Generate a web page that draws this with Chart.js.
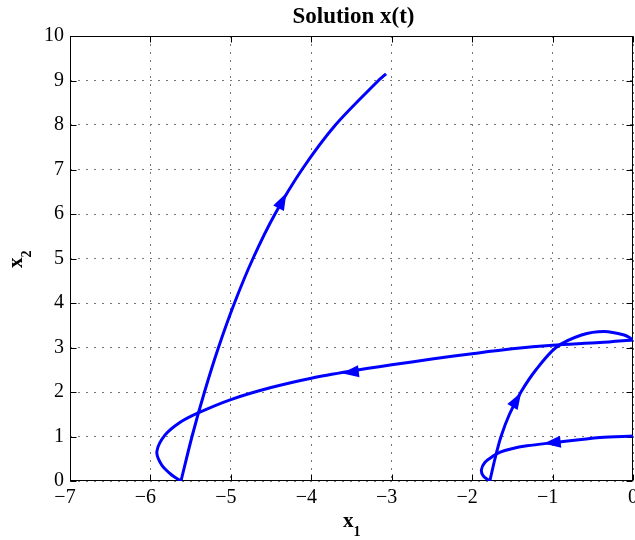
<!DOCTYPE html>
<html>
<head>
<meta charset="utf-8">
<script src="https://cdn.jsdelivr.net/npm/chart.js@4.4.1/dist/chart.umd.min.js"></script>
<style>
  html, body { margin: 0; padding: 0; background: #fff; }
</style>
</head>
<body>
<canvas id="phasePlot" width="635" height="540"></canvas>
<script>
// the trajectory, cut into legs where it hits an axis
const leg1X1 = [0, -0.41, -1.0, -1.32, -1.52, -1.65, -1.74, -1.84, -1.885, -1.86, -1.78]
const leg1X2 = [1.01, 0.98, 0.86, 0.79, 0.72, 0.65, 0.56, 0.42, 0.25, 0.11, 0]

const leg2X1 = [-1.78, -1.716, -1.641, -1.536, -1.393, -1.206, -0.957, -0.64, -0.36, -0.11, 0]
const leg2X2 = [0, 0.5, 1.0, 1.5, 2.0, 2.5, 3.0, 3.28, 3.36, 3.28, 3.18]

const leg3X1 = [0, -0.41, -1, -1.5, -2, -2.5, -3, -3.5, -4, -4.5, -5, -5.42, -5.63, -5.82, -5.92, -5.86, -5.735, -5.62]
const leg3X2 = [3.17, 3.11, 3.05, 2.97, 2.86, 2.74, 2.61, 2.47, 2.31, 2.1, 1.83, 1.52, 1.32, 1.03, 0.66, 0.36, 0.135, 0]

const leg4X1 = [-5.62, -5.483, -5.328, -5.154, -4.955, -4.725, -4.451, -4.115, -3.7, -3.165, -3.07]
const leg4X2 = [0, 1, 2, 3, 4, 5, 6, 7, 8, 9, 9.15]

// arrow heads: tip and a point behind it (data units)
const arrowTips = [[-1.11, 0.84], [-1.39, 1.99], [-3.62, 2.42], [-4.31, 6.47]]
const arrowTails = [[-0.9, 0.88], [-1.52, 1.6], [-3.4, 2.47], [-4.43, 6.05]]

const xTicks = [-7, -6, -5, -4, -3, -2, -1, 0]
const yTicks = [0, 1, 2, 3, 4, 5, 6, 7, 8, 9, 10]

const serif = "'Liberation Serif', 'Times New Roman', serif"
const blue = '#0000ff'

const toPoints = (xs, ys) => xs.map((x, i) => ({ x: x, y: ys[i] }))

const legStyle = {
    showLine: true,
    borderColor: blue,
    borderWidth: 3,
    pointRadius: 0,
    tension: 0.3,
    fill: false
}

// matlab puts the digit on the tick, the minus hangs out to the left
const xLabel = (v) => v < 0 ? '\u2212' + Math.abs(v) + '\u2007' : String(v)

// box round the plot + ticks pointing inwards
const framePlugin = {
    id: 'frame',
    beforeDatasetsDraw(chart) {
        const { ctx, chartArea: a, scales } = chart
        ctx.save()
        ctx.strokeStyle = '#000'
        ctx.lineWidth = 1
        const L = Math.round(a.left) + 0.5, R = Math.round(a.right) - 0.5
        const T = Math.round(a.top) + 0.5, B = Math.round(a.bottom) - 0.5
        ctx.strokeRect(L, T, R - L, B - T)
        ctx.beginPath()
        xTicks.forEach((v) => {
            const px = Math.round(scales.x.getPixelForValue(v)) + 0.5
            ctx.moveTo(px, B); ctx.lineTo(px, B - 6)
            ctx.moveTo(px, T); ctx.lineTo(px, T + 6)
        })
        yTicks.forEach((v) => {
            const py = Math.round(scales.y.getPixelForValue(v)) + 0.5
            ctx.moveTo(L, py); ctx.lineTo(L + 6, py)
            ctx.moveTo(R, py); ctx.lineTo(R - 6, py)
        })
        ctx.stroke()
        ctx.restore()
    }
}

const arrowPlugin = {
    id: 'arrows',
    afterDatasetsDraw(chart) {
        const { ctx, scales } = chart
        ctx.save()
        ctx.fillStyle = blue
        arrowTips.forEach((tip, i) => {
            const tx = scales.x.getPixelForValue(tip[0]), ty = scales.y.getPixelForValue(tip[1])
            const bx = scales.x.getPixelForValue(arrowTails[i][0]), by = scales.y.getPixelForValue(arrowTails[i][1])
            let dx = tx - bx, dy = ty - by
            const len = Math.hypot(dx, dy)
            dx /= len; dy /= len
            const l = 17, w = 6
            ctx.beginPath()
            ctx.moveTo(tx, ty)
            ctx.lineTo(tx - l * dx - w * dy, ty - l * dy + w * dx)
            ctx.lineTo(tx - l * dx + w * dy, ty - l * dy - w * dx)
            ctx.closePath()
            ctx.fill()
        })
        ctx.restore()
    }
}

// title and axis names (subscripts need two font sizes)
const textPlugin = {
    id: 'texts',
    afterDraw(chart) {
        const { ctx, chartArea: a } = chart
        ctx.save()
        ctx.fillStyle = '#000'
        ctx.textAlign = 'center'
        ctx.textBaseline = 'alphabetic'
        ctx.font = 'bold 23px ' + serif
        ctx.fillText('Solution x(t)', (a.left + a.right) / 2 + 2, 23)

        ctx.textAlign = 'left'
        ctx.font = 'bold 21px ' + serif
        const wx = ctx.measureText('x').width
        ctx.fillText('x', 343, 527)
        ctx.font = 'bold 14px ' + serif
        ctx.fillText('1', 343 + wx, 536)

        ctx.translate(22, 268)
        ctx.rotate(-Math.PI / 2)
        ctx.font = 'bold 21px ' + serif
        ctx.fillText('x', 0, 0)
        ctx.font = 'bold 14px ' + serif
        ctx.fillText('2', wx, 9)
        ctx.restore()
    }
}

new Chart(document.getElementById('phasePlot'), {
    type: 'scatter',
    data: {
        datasets: [
            Object.assign({ data: toPoints(leg1X1, leg1X2) }, legStyle),
            Object.assign({ data: toPoints(leg2X1, leg2X2) }, legStyle),
            Object.assign({ data: toPoints(leg3X1, leg3X2) }, legStyle),
            Object.assign({ data: toPoints(leg4X1, leg4X2) }, legStyle)
        ]
    },
    options: {
        responsive: false,
        animation: false,
        layout: { padding: { top: 36, right: 2, left: 0, bottom: 0 } },
        plugins: {
            legend: { display: false },
            tooltip: { enabled: false },
            title: { display: false }
        },
        scales: {
            x: {
                type: 'linear',
                min: -7,
                max: 0,
                afterFit: (s) => { s.height = 59; s.paddingLeft = 0; s.paddingRight = 0 },
                afterBuildTicks: (s) => { s.ticks = xTicks.map((v) => ({ value: v })) },
                ticks: {
                    color: '#000',
                    padding: 5,
                    maxRotation: 0,
                    autoSkip: false,
                    font: { family: serif, size: 20 },
                    callback: (v) => xLabel(v)
                },
                grid: { color: '#777', lineWidth: 1, drawTicks: false },
                border: { display: false, dash: [2, 6] }
            },
            y: {
                type: 'linear',
                min: 0,
                max: 10,
                afterFit: (s) => { s.width = 70; s.paddingTop = 0; s.paddingBottom = 0 },
                afterBuildTicks: (s) => { s.ticks = yTicks.map((v) => ({ value: v })) },
                ticks: {
                    color: '#000',
                    padding: 6,
                    autoSkip: false,
                    font: { family: serif, size: 20 },
                    callback: (v) => String(v)
                },
                grid: { color: '#777', lineWidth: 1, drawTicks: false },
                border: { display: false, dash: [2, 6] }
            }
        }
    },
    plugins: [framePlugin, arrowPlugin, textPlugin]
})
</script>
</body>
</html>
